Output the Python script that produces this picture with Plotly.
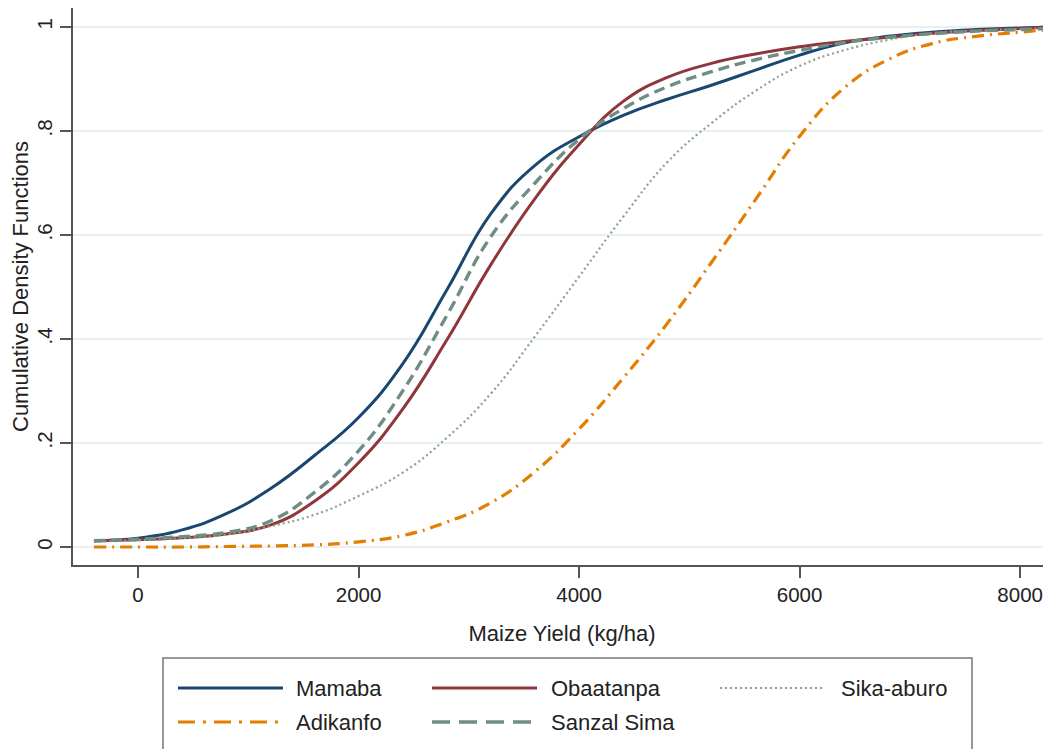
import plotly.graph_objects as go

# ---- data ----
yield_kg = [-400, 0, 400, 800, 1200, 1600, 2000, 2400, 2800, 3200, 3600, 4000,
            4400, 4800, 5200, 5600, 6000, 6400, 6800, 7200, 7600, 8000, 8250]

mamaba = [0.012, 0.017, 0.033, 0.064, 0.112, 0.176, 0.249, 0.352, 0.494, 0.641, 0.734, 0.789,
          0.830, 0.861, 0.888, 0.917, 0.946, 0.969, 0.982, 0.990, 0.995, 0.998, 1.0]
obaatanpa = [0.012, 0.014, 0.018, 0.025, 0.042, 0.088, 0.162, 0.265, 0.398, 0.543, 0.670, 0.774,
             0.857, 0.903, 0.930, 0.948, 0.962, 0.972, 0.980, 0.988, 0.993, 0.997, 1.0]
sika_aburo = [0.010, 0.013, 0.017, 0.024, 0.040, 0.062, 0.098, 0.143, 0.210, 0.295, 0.405, 0.520,
              0.635, 0.740, 0.815, 0.877, 0.925, 0.955, 0.975, 0.988, 0.993, 0.996, 0.998]
adikanfo = [0.0, 0.0, 0.0, 0.001, 0.002, 0.004, 0.010, 0.022, 0.048, 0.085, 0.145, 0.227,
            0.325, 0.430, 0.547, 0.668, 0.790, 0.882, 0.937, 0.968, 0.982, 0.990, 0.995]
sanzal_sima = [0.012, 0.015, 0.020, 0.028, 0.050, 0.105, 0.185, 0.300, 0.445, 0.597, 0.700, 0.784,
               0.843, 0.885, 0.914, 0.937, 0.955, 0.970, 0.980, 0.987, 0.992, 0.995, 0.997]

series_names = ["Mamaba", "Obaatanpa", "Sika-aburo", "Adikanfo", "Sanzal Sima"]
series_values = [mamaba, obaatanpa, sika_aburo, adikanfo, sanzal_sima]

x_tick_vals = [0, 2000, 4000, 6000, 8000]
x_tick_text = ["0", "2000", "4000", "6000", "8000"]
y_tick_vals = [0, 0.2, 0.4, 0.6, 0.8, 1.0]
y_tick_text = ["0", ".2", ".4", ".6", ".8", "1"]

# ---- styles ----
colors = ["#1a476f", "#90353b", "#8aa384", "#e37e00", "#6e8e84"]
dashes = ["solid", "solid", "2px,3px", "12px,6px,2px,6px", "11px,6px"]
legend_dashes = ["solid", "solid", "2px,3px", "17px,8px,3px,8px", "18px,9px"]
widths = [3, 3, 2.2, 3.2, 3.4]

FONT = "Liberation Sans"
PAGE_OFF = 8                      # default body margin of the html page
W, H = 1051 - PAGE_OFF, 749 - PAGE_OFF
ML, MR, MT, MB = 73 - PAGE_OFF, 0, 8 - PAGE_OFF, 749 - 565
PW, PH = W - ML - MR, H - MT - MB

fig = go.Figure()
for name, vals, c, d, w in zip(series_names, series_values, colors, dashes, widths):
    fig.add_trace(go.Scatter(x=yield_kg, y=vals, mode="lines", name=name,
                             line=dict(color=c, dash=d, width=w, shape="spline", smoothing=1.3),
                             showlegend=False))

fig.update_layout(
    width=W, height=H,
    margin=dict(l=ML, r=MR, t=MT, b=MB, autoexpand=False),
    paper_bgcolor="white", plot_bgcolor="white",
    font=dict(family=FONT, size=21, color="#222"),
    xaxis=dict(range=[-590, 8280], tickvals=x_tick_vals, ticktext=x_tick_text,
               showgrid=False, zeroline=False, showline=True, linecolor="#555", linewidth=1.5,
               ticks="outside", ticklen=11, tickwidth=1.5, tickcolor="#555",
               tickfont=dict(size=20.5), automargin=False,
               title=dict(text="Maize Yield (kg/ha)", font=dict(size=22), standoff=20)),
    yaxis=dict(range=[-0.0346, 1.0365], tickvals=y_tick_vals, ticktext=y_tick_text,
               showgrid=True, gridcolor="#e8f0f2", gridwidth=1.5, zeroline=False,
               showline=True, linecolor="#555", linewidth=1.5,
               ticks="outside", ticklen=11, tickwidth=1.5, tickcolor="#555",
               tickangle=-90, tickfont=dict(size=20.5), automargin=False,
               title=dict(text="Cumulative Density Functions", font=dict(size=22), standoff=0)),
)

# ---- legend (Stata-style box below the plot); positions given in page pixels ----
def px_x(px):
    return (px - PAGE_OFF - ML) / PW

def px_y(py):
    return (H - MB - (py - PAGE_OFF)) / PH

fig.add_shape(type="rect", xref="paper", yref="paper",
              x0=px_x(163), x1=px_x(972), y0=px_y(790), y1=px_y(658),
              line=dict(color="#777", width=1.5), fillcolor="white", layer="above")

col_line_x = [178, 432, 720]
col_text_x = [294, 549, 839]
row_y = [688, 722]
line_len = 105
positions = [(0, 0), (0, 1), (0, 2), (1, 0), (1, 1)]
for (r, c), name, col, d, w in zip(positions, series_names, colors, legend_dashes, widths):
    fig.add_shape(type="line", xref="paper", yref="paper",
                  x0=px_x(col_line_x[c]), x1=px_x(col_line_x[c] + line_len),
                  y0=px_y(row_y[r]), y1=px_y(row_y[r]),
                  line=dict(color=col, dash=d, width=w), layer="above")
    fig.add_annotation(xref="paper", yref="paper", x=px_x(col_text_x[c]), y=px_y(row_y[r]),
                       text=name, showarrow=False, xanchor="left", yanchor="middle",
                       font=dict(family=FONT, size=22, color="#222"))

fig.write_html("out.html")
